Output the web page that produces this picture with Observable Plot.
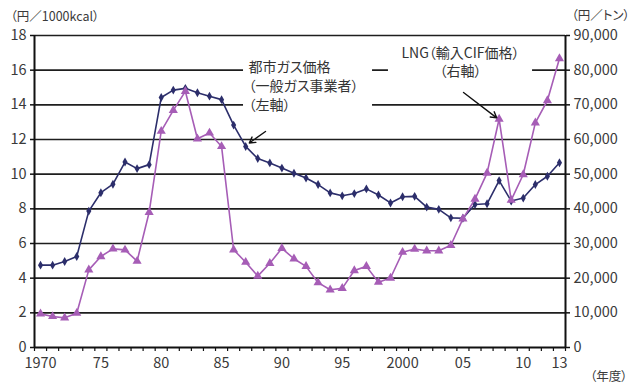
<!DOCTYPE html>
<html><head><meta charset="utf-8">
<script src="https://cdn.jsdelivr.net/npm/d3@7"></script>
<script src="https://cdn.jsdelivr.net/npm/@observablehq/plot@0.6"></script>
<style>
body{margin:0;background:#fff}
svg{display:block}
svg text{font-feature-settings:"palt";}
</style>
</head><body><div id="chart"></div>
<script>
// ---- data ----
const years = [1970,1971,1972,1973,1974,1975,1976,1977,1978,1979,
  1980,1981,1982,1983,1984,1985,1986,1987,1988,1989,
  1990,1991,1992,1993,1994,1995,1996,1997,1998,1999,
  2000,2001,2002,2003,2004,2005,2006,2007,2008,2009,
  2010,2011,2012,2013];
// 都市ガス価格（一般ガス事業者）円/1000kcal（左軸）
const cityGas = [4.75,4.75,4.96,5.25,7.87,8.93,9.42,10.7,10.32,10.55,
  14.42,14.85,14.95,14.7,14.5,14.3,12.83,11.6,10.9,10.65,
  10.35,10.05,9.78,9.4,8.92,8.75,8.88,9.15,8.8,8.34,
  8.7,8.72,8.1,7.97,7.48,7.46,8.25,8.29,9.63,8.45,
  8.62,9.4,9.88,10.66];
// LNG（輸入CIF価格）円/トン（右軸）
const lng = [9700,8950,8550,9900,22400,26250,28450,28150,24900,39000,
  62400,68400,73900,60200,61900,58000,28200,24600,20600,24300,
  28600,25600,23400,18700,16650,17050,22200,23400,18850,20050,
  27500,28400,27900,27900,29500,37100,42800,50300,65900,42500,
  49900,64800,71250,83350];
const xTickYears = [1970,1975,1980,1985,1990,1995,2000,2005,2010,2013];
const xTickLabels = ["1970","75","80","85","90","95","2000","05","10","13"];
const leftTicks = [0,2,4,6,8,10,12,14,16,18];
const rightTickLabels = ["0","10,000","20,000","30,000","40,000","50,000","60,000","70,000","80,000","90,000"];
const leftUnit = "（円／1000kcal）";
const rightUnit = "（円／トン）";
const xUnit = "（年度）";
const gasLabel = ["都市ガス価格","（一般ガス事業者）","（左軸）"];
const lngLabel = ["LNG（輸入CIF価格）","（右軸）"];

// ---- build ----
const RIGHT_RATIO = 90000 / 18;
const table = years.map((y, i) => ({year: y, gas: cityGas[i], lng: lng[i] / RIGHT_RATIO}));
const boundaries = [...years.map(y => y - 0.5), years[years.length - 1] + 0.5];

const FONT = '"Noto Sans CJK JP","Noto Sans",sans-serif';
const navy = "#2c2e6b", purple = "#a65db6", gridC = "#1e1e1e", textC = "#3a3a3a";

// annotation placement (data units)
const boxes = [
  {x1: 1986.82, x2: 1997.51, y1: 13.2, y2: 17.1},
  {x1: 1998.83, x2: 2010.77, y1: 15.3, y2: 17.8}
];
const gasText = [
  {x: 1987.23, y: 16.15, t: gasLabel[0]},
  {x: 1987.23, y: 15.06, t: gasLabel[1]},
  {x: 1987.23, y: 13.96, t: gasLabel[2]}
];
const lngText = [
  {x: 2004.8, y: 16.95, t: lngLabel[0]},
  {x: 2004.8, y: 15.9, t: lngLabel[1]}
];
const arrows = [
  {x1: 1988.64, y1: 12.46, x2: 1987.3, y2: 11.8},
  {x1: 2005.05, y1: 14.71, x2: 2007.8, y2: 13.25}
];

const chart = Plot.plot({
  width: 641, height: 383,
  marginLeft: 34, marginRight: 76, marginTop: 35, marginBottom: 36,
  style: {fontFamily: FONT, fontSize: "14.5px", color: textC, background: "#fff"},
  x: {type: "linear", domain: [1969.5, 2013.5]},
  y: {domain: [0, 18]},
  marks: [
    Plot.ruleY(leftTicks.filter(d => d > 0), {stroke: gridC, strokeWidth: 1.7}),
    Plot.rect(boxes, {x1: "x1", x2: "x2", y1: "y1", y2: "y2", fill: "white"}),
    Plot.ruleX([1969.5, 2013.5], {stroke: "#111", strokeWidth: 2}),
    Plot.ruleY([0], {stroke: "#111", strokeWidth: 2}),
    Plot.axisY(leftTicks, {anchor: "left", tickSize: 4, tickPadding: 4, stroke: "#111", strokeWidth: 1.5, fontSize: 14.5, fill: textC, label: null}),
    Plot.axisY(leftTicks, {anchor: "right", tickSize: 4, tickPadding: 4, stroke: "#111", strokeWidth: 1.5, fontSize: 14.5, fill: textC, label: null,
      tickFormat: d => rightTickLabels[leftTicks.indexOf(d)]}),
    Plot.axisX(boundaries, {tickSize: 4, tickFormat: () => "", stroke: "#111", strokeWidth: 1.2, label: null}),
    Plot.axisX(xTickYears, {tickSize: 0, tickPadding: 10, fontSize: 14.5, fill: textC, label: null,
      tickFormat: d => xTickLabels[xTickYears.indexOf(d)]}),
    Plot.line(table, {x: "year", y: "gas", stroke: navy, strokeWidth: 1.6}),
    Plot.dot(table, {x: "year", y: "gas", symbol: "diamond", r: 2.7, fill: navy, stroke: "none"}),
    Plot.line(table, {x: "year", y: "lng", stroke: purple, strokeWidth: 1.6}),
    Plot.dot(table, {x: "year", y: "lng", symbol: "triangle", r: 3.4, fill: purple, stroke: "none"}),
    Plot.text(gasText, {x: "x", y: "y", text: "t", textAnchor: "start", lineAnchor: "middle", fontSize: 14, fill: "#333"}),
    Plot.text(lngText, {x: "x", y: "y", text: "t", textAnchor: "middle", lineAnchor: "middle", fontSize: 14, fill: "#333"}),
    Plot.arrow(arrows, {x1: "x1", y1: "y1", x2: "x2", y2: "y2", stroke: "#111", strokeWidth: 1.4, headLength: 7, bend: 0}),
    Plot.text([leftUnit], {text: d => d, frameAnchor: "top-left", dx: -24, dy: -19, textAnchor: "start", lineAnchor: "middle", fontSize: 12.5, fill: textC}),
    Plot.text([rightUnit], {text: d => d, frameAnchor: "top-right", dx: 6, dy: -20, textAnchor: "start", lineAnchor: "middle", fontSize: 12.5, fill: textC}),
    Plot.text([xUnit], {text: d => d, frameAnchor: "bottom-right", dx: 62, dy: 29, textAnchor: "end", lineAnchor: "middle", fontSize: 12.5, fill: textC})
  ]
});
document.getElementById("chart").appendChild(chart);
</script>
</body></html>
